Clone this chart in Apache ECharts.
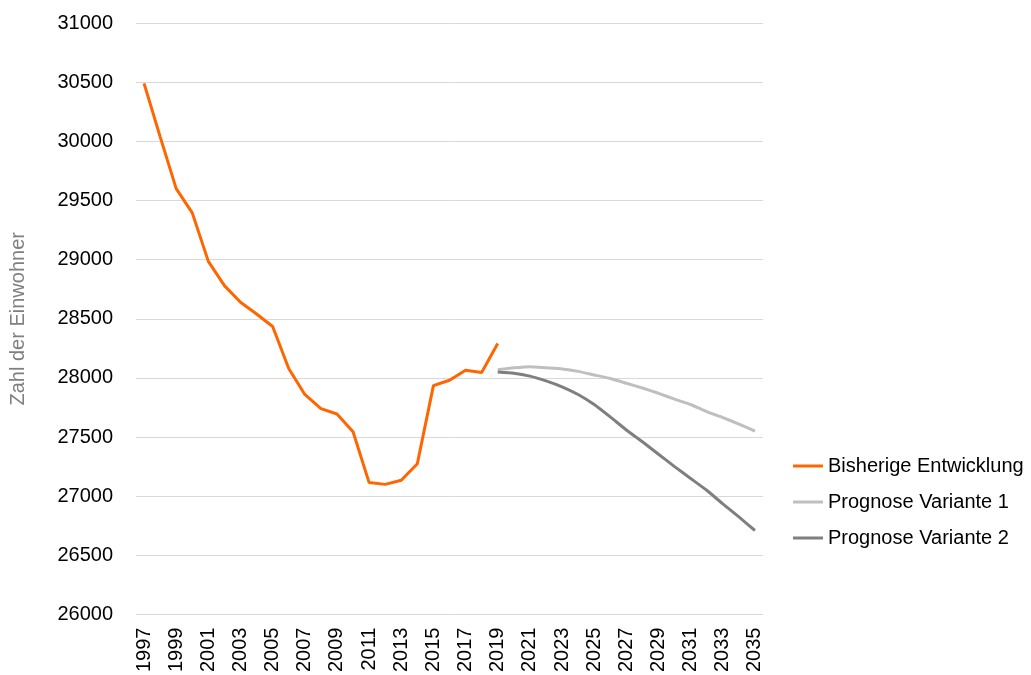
<!DOCTYPE html>
<html>
<head>
    <meta charset="utf-8">
    <title>Einwohnerentwicklung</title>
    <script src="https://cdn.jsdelivr.net/npm/echarts@6/dist/echarts.min.js"></script>
    <style>
        html, body { margin: 0; padding: 0; background: #fff; }
        #main { width: 1031px; height: 675px; }
    </style>
</head>
<body>
<div id="main"></div>
<script>
// Jahre 1997 - 2035
var years = [];
for (var y = 1997; y <= 2035; y++) years.push(String(y));

// Bisherige Entwicklung 1997 - 2019
var bisherig = [30490, 30040, 29600, 29395, 28985, 28780, 28640, 28540, 28435, 28080, 27860,
    27740, 27695, 27545, 27115, 27100, 27135, 27275, 27935, 27980, 28065, 28045, 28290];

// Prognosen 2019 - 2035
var variante1 = [28070, 28085, 28095, 28085, 28075, 28055, 28025, 27995, 27955, 27915,
    27870, 27820, 27775, 27715, 27665, 27610, 27550];
var variante2 = [28050, 28040, 28015, 27975, 27925, 27860, 27775, 27670, 27560, 27460,
    27355, 27250, 27150, 27050, 26935, 26825, 26710];

var yMin = 26000, yMax = 31000, yStep = 500;

function pad(arr, before, total) {
    var out = [];
    for (var i = 0; i < before; i++) out.push(null);
    out = out.concat(arr);
    while (out.length < total) out.push(null);
    return out;
}

var fontFam = '"Liberation Sans", Arial, sans-serif';
var chart = echarts.init(document.getElementById('main'));

var option = {
    animation: false,
    textStyle: { fontFamily: fontFam },
    grid: { left: 135, right: 268, top: 23, bottom: 60 },
    legend: {
        orient: 'vertical',
        left: 788,
        top: 451,
        icon: 'rect',
        itemWidth: 30,
        itemHeight: 3,
        itemGap: 16,
        textStyle: { fontSize: 20, color: '#000', fontFamily: fontFam, padding: [0, 0, 0, 0] },
        data: ['Bisherige Entwicklung', 'Prognose Variante 1', 'Prognose Variante 2']
    },
    xAxis: {
        type: 'category',
        boundaryGap: true,
        data: years,
        axisLine: { show: false },
        axisTick: { show: false },
        axisLabel: {
            interval: 1,
            rotate: 90,
            margin: 13,
            fontSize: 20,
            color: '#000',
            fontFamily: fontFam
        }
    },
    yAxis: {
        type: 'value',
        min: yMin,
        max: yMax,
        interval: yStep,
        name: 'Zahl der Einwohner',
        nameLocation: 'middle',
        nameGap: 108,
        nameTextStyle: { fontSize: 20, color: '#808080', fontFamily: fontFam },
        axisLine: { show: false },
        axisTick: { show: false },
        axisLabel: {
            margin: 23,
            fontSize: 20,
            color: '#000',
            fontFamily: fontFam,
            formatter: function (v) { return String(v); }
        },
        splitLine: { lineStyle: { color: '#d9d9d9', width: 1 } }
    },
    series: [{
        name: 'Bisherige Entwicklung',
        type: 'line',
        symbol: 'none',
        data: pad(bisherig, 0, years.length),
        itemStyle: { color: '#ff6600' },
        lineStyle: { color: '#ff6600', width: 3 }
    }, {
        name: 'Prognose Variante 1',
        type: 'line',
        symbol: 'none',
        smooth: 0.15,
        data: pad(variante1, 22, years.length),
        itemStyle: { color: '#bfbfbf' },
        lineStyle: { color: '#bfbfbf', width: 3 }
    }, {
        name: 'Prognose Variante 2',
        type: 'line',
        symbol: 'none',
        smooth: 0.15,
        data: pad(variante2, 22, years.length),
        itemStyle: { color: '#7f7f7f' },
        lineStyle: { color: '#7f7f7f', width: 3 }
    }]
};
chart.setOption(option);
</script>
</body>
</html>
